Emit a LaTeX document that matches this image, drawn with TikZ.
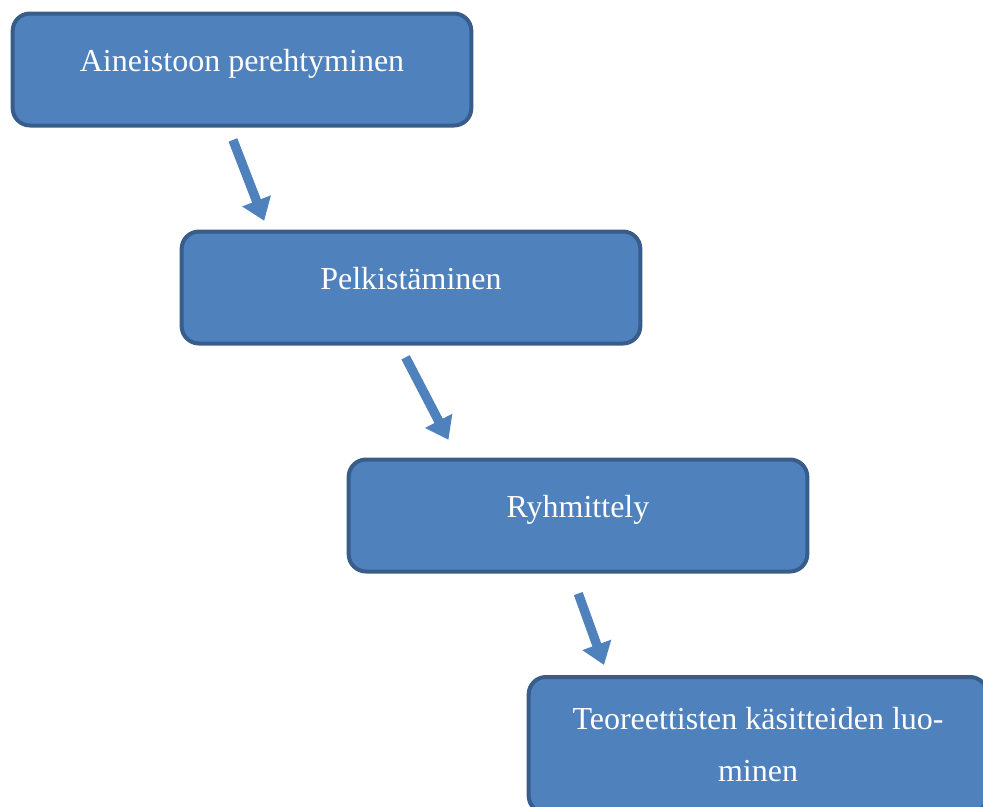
\documentclass[tikz,border=0pt]{standalone}
\usepackage{fontspec}
\setmainfont{Liberation Serif}
\usepackage{tikz}
\usetikzlibrary{arrows.meta,calc}
\definecolor{bfill}{HTML}{4F81BD}
\definecolor{bline}{HTML}{385D8A}

\begin{document}
\begin{tikzpicture}[x=0.75pt,y=-0.75pt,
  font=\fontsize{24pt}{39pt}\selectfont,
  box/.style={draw=bline,line width=3pt,fill=bfill,text=white,rounded corners=13pt,
              minimum width=344pt,minimum height=84pt,align=center,inner sep=0pt},
  lift/.style={text depth=14pt},
  arr/.style={-{Triangle[length=16pt,width=22pt]},line width=7pt,draw=bfill}]

  \useasboundingbox (0,0) rectangle (983,807);

  \node[box,lift] (a) at (242,69.5) {Aineistoon perehtyminen};
  \node[box,lift] (b) at (411,287.5) {Pelkistäminen};
  \node[box,lift] (c) at (578,515.5) {Ryhmittely};
  \node[box,minimum height=102pt] (d) at (758,745) {Teoreettisten käsitteiden luo-\\minen};

  \draw[arr,shorten <=10pt,shorten >=7pt] ($(a.south west)!0.47!(a.south east)$) -- ($(b.north west)!0.19!(b.north east)$);
  \draw[arr,shorten <=10pt,shorten >=15pt] ($(b.south west)!0.475!(b.south east)$) -- ($(c.north west)!0.24!(c.north east)$);
  \draw[arr,shorten <=16pt,shorten >=8pt] ($(c.south west)!0.485!(c.south east)$) -- ($(d.north west)!0.175!(d.north east)$);
\end{tikzpicture}
\end{document}
